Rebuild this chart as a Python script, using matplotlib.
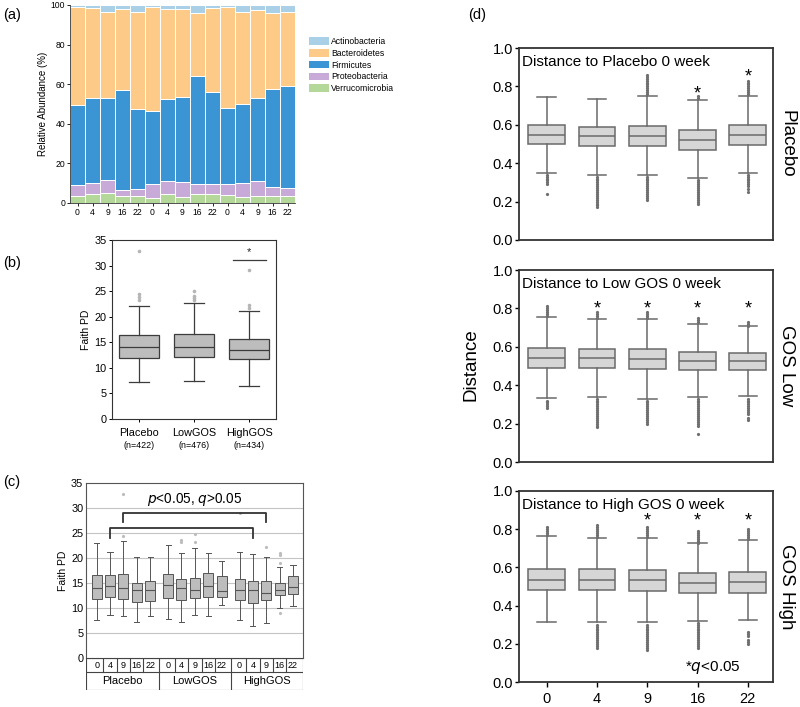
import matplotlib
matplotlib.use('Agg')
import matplotlib.pyplot as plt
from matplotlib.patches import Patch
import numpy as np

plt.rcParams['font.family'] = ['Liberation Sans', 'DejaVu Sans']

# ---------------- Panel (a) data: relative abundance (%) ----------------
weeks = ['0', '4', '9', '16', '22']
phyla = ['Actinobacteria', 'Bacteroidetes', 'Firmicutes', 'Proteobacteria', 'Verrucomicrobia']
verrucomicrobia = [3.5, 4.7, 5.0, 3.4, 3.5, 2.7, 4.7, 3.0, 4.7, 4.7, 4.2, 3.0, 3.5, 3.5, 3.5]
proteobacteria = [5.8, 5.3, 6.8, 3.3, 3.4, 6.7, 6.3, 7.5, 4.7, 4.7, 5.2, 7.0, 7.5, 4.6, 4.3]
firmicutes = [40.1, 42.8, 41.0, 50.6, 40.8, 37.3, 41.4, 43.1, 54.6, 46.8, 38.6, 40.0, 41.8, 49.7, 51.2]
bacteroidetes = [49.8, 45.5, 43.8, 40.5, 48.9, 52.1, 45.4, 44.2, 32.1, 42.1, 51.2, 46.6, 44.7, 38.3, 37.5]
actinobacteria = [0.8, 1.7, 3.4, 2.2, 3.4, 1.2, 2.2, 2.2, 3.9, 1.7, 0.8, 3.4, 2.5, 3.9, 3.5]
phylum_colors = {'Actinobacteria': '#a9d0e6', 'Bacteroidetes': '#fdca87',
                 'Firmicutes': '#3b94d4', 'Proteobacteria': '#c8aad8',
                 'Verrucomicrobia': '#b4d899'}

# ---------------- Panel (b) data: Faith PD by group ----------------
groups_b = ['Placebo', 'LowGOS', 'HighGOS']
n_b = ['(n=422)', '(n=476)', '(n=434)']
b_q1 = [12.0, 12.1, 11.7]
b_med = [14.0, 14.1, 13.5]
b_q3 = [16.5, 16.6, 15.6]
b_lo = [7.3, 7.4, 6.4]
b_hi = [22.0, 22.7, 21.1]
b_fliers = [[23.3, 23.8, 24.5, 32.8], [23.3, 23.7, 24.1, 25.0], [21.8, 22.2, 29.2]]

# ---------------- Panel (c) data: Faith PD by group x week ----------------
c_q1 = [11.9, 12.3, 11.9, 11.3, 11.5, 12.1, 11.7, 12.1, 12.3, 12.3, 11.7, 11.1, 11.7, 12.7, 12.9]
c_med = [14.1, 14.4, 14.0, 13.7, 13.7, 14.7, 14.0, 13.7, 14.4, 13.5, 13.6, 13.6, 13.1, 13.7, 14.3]
c_q3 = [16.7, 16.7, 16.8, 15.0, 15.5, 16.8, 15.9, 16.1, 17.1, 16.4, 15.9, 15.5, 15.4, 15.1, 16.4]
c_lo = [7.6, 8.6, 8.4, 7.2, 8.4, 7.8, 7.3, 8.6, 8.4, 10.7, 7.7, 6.4, 7.0, 10.1, 10.5]
c_hi = [23.1, 21.3, 23.4, 20.3, 20.2, 22.6, 21.0, 22.1, 21.0, 19.4, 21.2, 20.8, 20.3, 18.2, 18.6]
c_fliers = [[], [], [24.5, 32.8], [], [], [], [23.3, 23.6], [23.3, 24.8], [], [],
            [29.0], [], [22.2], [9.0, 19.1, 20.6, 21.1], []]

# ---------------- Panel (d) data: distance to week-0 ----------------
d_rows = ['Placebo', 'GOS Low', 'GOS High']
d_titles = ['Distance to Placebo 0 week', 'Distance to Low GOS 0 week', 'Distance to High GOS 0 week']
d_q1 = [[0.499, 0.487, 0.492, 0.471, 0.497],
        [0.490, 0.490, 0.483, 0.478, 0.477],
        [0.484, 0.480, 0.476, 0.466, 0.466]]
d_med = [[0.548, 0.543, 0.543, 0.522, 0.548],
         [0.544, 0.541, 0.536, 0.525, 0.525],
         [0.536, 0.536, 0.532, 0.518, 0.522]]
d_q3 = [[0.597, 0.588, 0.593, 0.574, 0.597],
        [0.595, 0.591, 0.588, 0.574, 0.570],
        [0.593, 0.590, 0.588, 0.571, 0.576]]
d_lo = [[0.351, 0.337, 0.337, 0.323, 0.351],
        [0.334, 0.339, 0.327, 0.336, 0.343],
        [0.314, 0.314, 0.312, 0.319, 0.326]]
d_hi = [[0.743, 0.734, 0.748, 0.727, 0.748],
        [0.753, 0.744, 0.744, 0.718, 0.708],
        [0.763, 0.756, 0.754, 0.728, 0.742]]
d_fliers = [
    [[0.34, 0.33, 0.32, 0.31, 0.30, 0.29, 0.24],
     [0.33, 0.32, 0.31, 0.30, 0.29, 0.28, 0.27, 0.26, 0.25, 0.24, 0.23, 0.22, 0.21, 0.20, 0.19, 0.18, 0.17],
     [0.76, 0.77, 0.78, 0.79, 0.80, 0.81, 0.82, 0.83, 0.84, 0.85, 0.86,
      0.33, 0.32, 0.31, 0.30, 0.29, 0.28, 0.27, 0.26, 0.25, 0.24, 0.23, 0.22, 0.21],
     [0.74, 0.75, 0.31, 0.30, 0.29, 0.28, 0.27, 0.26, 0.25, 0.24, 0.23, 0.22, 0.21, 0.20, 0.19],
     [0.76, 0.77, 0.78, 0.79, 0.80, 0.81, 0.82, 0.83,
      0.34, 0.33, 0.32, 0.31, 0.30, 0.29, 0.28, 0.265, 0.25]],
    [[0.76, 0.77, 0.78, 0.79, 0.80, 0.81, 0.32, 0.31, 0.30, 0.29, 0.28],
     [0.75, 0.76, 0.77, 0.78, 0.33, 0.32, 0.31, 0.30, 0.29, 0.28, 0.27, 0.26, 0.25, 0.24, 0.23, 0.22, 0.21, 0.20, 0.19, 0.18],
     [0.75, 0.76, 0.77, 0.78, 0.32, 0.31, 0.30, 0.29, 0.28, 0.27, 0.26, 0.25, 0.24, 0.23, 0.22, 0.21, 0.20],
     [0.73, 0.74, 0.75, 0.33, 0.32, 0.31, 0.30, 0.29, 0.28, 0.27, 0.26, 0.25, 0.24, 0.23, 0.22, 0.21, 0.20, 0.19, 0.145],
     [0.71, 0.72, 0.73, 0.33, 0.32, 0.31, 0.30, 0.29, 0.28, 0.27, 0.26, 0.25, 0.23, 0.22]],
    [[0.77, 0.78, 0.79, 0.80, 0.81],
     [0.76, 0.77, 0.78, 0.79, 0.80, 0.81, 0.82,
      0.30, 0.29, 0.28, 0.27, 0.26, 0.25, 0.24, 0.23, 0.22, 0.21, 0.20, 0.19, 0.18],
     [0.76, 0.77, 0.78, 0.79, 0.80, 0.81,
      0.30, 0.29, 0.28, 0.27, 0.26, 0.25, 0.24, 0.23, 0.22, 0.21, 0.20, 0.19, 0.18, 0.17],
     [0.73, 0.74, 0.75, 0.76, 0.77, 0.78, 0.79,
      0.31, 0.30, 0.29, 0.28, 0.27, 0.26, 0.25, 0.24, 0.23, 0.22, 0.21, 0.20, 0.19, 0.18],
     [0.75, 0.76, 0.77, 0.78, 0.79, 0.80, 0.26, 0.25, 0.24, 0.22, 0.21, 0.20]]]
# significance (*q<0.05) per week, with the height at which the star is shown
d_sig = [[False, False, False, True, True],
         [False, True, True, True, True],
         [False, False, True, True, True]]
d_star_y = [[0, 0, 0, 0.79, 0.88],
            [0, 0.83, 0.83, 0.83, 0.83],
            [0, 0, 0.875, 0.875, 0.875]]


def stats(q1, med, q3, lo, hi, fl):
    return [dict(q1=a, med=b, q3=c, whislo=d, whishi=e, fliers=f)
            for a, b, c, d, e, f in zip(q1, med, q3, lo, hi, fl)]


W, H = 800, 707
fig = plt.figure(figsize=(8, 7.07), dpi=100)


def fx(px):
    return px / W


def fy(py):
    return 1 - py / H


# ---------------- (a) ----------------
ax_a = fig.add_axes([fx(70), fy(203), fx(295) - fx(70), fy(5) - fy(203)])
xa = np.arange(15)
bottom = np.zeros(15)
series = {'Verrucomicrobia': verrucomicrobia, 'Proteobacteria': proteobacteria,
          'Firmicutes': firmicutes, 'Bacteroidetes': bacteroidetes,
          'Actinobacteria': actinobacteria}
for name in ['Verrucomicrobia', 'Proteobacteria', 'Firmicutes', 'Bacteroidetes', 'Actinobacteria']:
    vals = np.array(series[name])
    ax_a.bar(xa, vals, bottom=bottom, width=1.0, color=phylum_colors[name],
             edgecolor='white', linewidth=0.7)
    bottom += vals
ax_a.set_xlim(-0.5, 14.5)
ax_a.set_ylim(0, 100)
ax_a.set_yticks([0, 20, 40, 60, 80, 100])
ax_a.set_xticks(xa)
ax_a.set_xticklabels(weeks * 3)
ax_a.tick_params(labelsize=6.2, length=2, width=0.6, pad=1.5)
ax_a.set_ylabel('Relative Abundance (%)', fontsize=7, labelpad=2)
for s in ['top', 'right']:
    ax_a.spines[s].set_visible(False)
for s in ['left', 'bottom']:
    ax_a.spines[s].set_linewidth(0.6)
    ax_a.spines[s].set_color('#333333')
fig.legend([Patch(facecolor=phylum_colors[p]) for p in phyla], phyla,
           loc='upper left', bbox_to_anchor=(fx(309), fy(37)), frameon=False,
           fontsize=6.2, handlelength=2.3, handleheight=0.95, labelspacing=0.32,
           handletextpad=0.3, borderaxespad=0, borderpad=0)

# ---------------- (b) ----------------
box_col = '#bdbdbd'
edge_col = '#3c3c3c'
ax_b = fig.add_axes([fx(112), fy(419), fx(276) - fx(112), fy(240) - fy(419)])
ax_b.bxp(stats(b_q1, b_med, b_q3, b_lo, b_hi, b_fliers), positions=[1, 2, 3], widths=0.73,
         patch_artist=True, showfliers=True,
         boxprops=dict(facecolor=box_col, edgecolor=edge_col, linewidth=0.9),
         medianprops=dict(color=edge_col, linewidth=0.9),
         whiskerprops=dict(color=edge_col, linewidth=0.9),
         capprops=dict(color=edge_col, linewidth=0.9), capwidths=0.36,
         flierprops=dict(marker='o', markersize=2.6, markerfacecolor='#b5b5b5',
                         markeredgecolor='none'))
ax_b.set_xlim(0.51, 3.49)
ax_b.set_ylim(0, 35)
ax_b.set_yticks(range(0, 36, 5))
ax_b.set_xticks([1, 2, 3])
ax_b.set_xticklabels([])
ax_b.tick_params(labelsize=7.8, length=2.5, width=0.7, pad=1.5)
ax_b.set_ylabel('Faith PD', fontsize=7.5, labelpad=2)
for s in ax_b.spines.values():
    s.set_linewidth(0.8)
    s.set_color('#333333')
for i, (g, n) in enumerate(zip(groups_b, n_b)):
    ax_b.text(i + 1, -2.7, g, ha='center', va='center', fontsize=7.8)
    ax_b.text(i + 1, -5.1, n, ha='center', va='center', fontsize=6.4)
ax_b.plot([2.7, 3.3], [31.0, 31.0], color=edge_col, lw=0.9)
ax_b.text(3.0, 31.6, '*', ha='center', va='bottom', fontsize=8, color='#222222')

# ---------------- (c) ----------------
pos_c = [g * 5.35 + i for g in range(3) for i in range(5)]
ax_c = fig.add_axes([fx(86), fy(658), fx(303) - fx(86), fy(483) - fy(658)])
for yv in range(5, 35, 5):
    ax_c.axhline(yv, color='#c4c4c4', lw=0.8, zorder=0)
ax_c.bxp(stats(c_q1, c_med, c_q3, c_lo, c_hi, c_fliers), positions=pos_c, widths=0.75,
         patch_artist=True, showfliers=True,
         boxprops=dict(facecolor=box_col, edgecolor='#555555', linewidth=0.7),
         medianprops=dict(color='#555555', linewidth=0.8),
         whiskerprops=dict(color='#555555', linewidth=0.7),
         capprops=dict(color='#555555', linewidth=0.7), capwidths=0.38,
         flierprops=dict(marker='o', markersize=2.3, markerfacecolor='#bdbdbd',
                         markeredgecolor='none'))
ax_c.set_xlim(-0.8, 15.45)
ax_c.set_ylim(0, 35)
ax_c.set_yticks(range(0, 36, 5))
ax_c.set_xticks([])
ax_c.tick_params(labelsize=7.8, length=0, pad=2)
ax_c.set_ylabel('Faith PD', fontsize=7.5, labelpad=2)
for s in ax_c.spines.values():
    s.set_linewidth(0.8)
    s.set_color('#555555')
br_col = '#333333'
ax_c.plot([pos_c[2], pos_c[2], pos_c[12], pos_c[12]], [27.2, 29.1, 29.1, 27.2], color=br_col, lw=1.3)
ax_c.plot([pos_c[1], pos_c[1], pos_c[11], pos_c[11]], [24.0, 26.1, 26.1, 24.0], color=br_col, lw=1.3)
ax_c.text((pos_c[2] + pos_c[12]) / 2, 31.6, r'$\it{p}$<0.05, $\it{q}$>0.05',
          ha='center', va='center', fontsize=9.8)

# table under (c)
ax_t = fig.add_axes([fx(86), fy(690), fx(303) - fx(86), fy(658) - fy(690)])
ax_t.set_xlim(-0.8, 15.45)
ax_t.set_ylim(0, 1)
ax_t.axis('off')
lc = '#444444'
mid = 0.5625
for yl in (0.0, mid, 1.0):
    ax_t.plot([-0.8, 15.45], [yl, yl], color=lc, lw=0.8)
gb = [-0.8, (pos_c[4] + pos_c[5]) / 2, (pos_c[9] + pos_c[10]) / 2, 15.45]
for xb in gb:
    ax_t.plot([xb, xb], [0, 1], color=lc, lw=0.8)
for k in range(14):
    if k in (4, 9):
        continue
    xb = (pos_c[k] + pos_c[k + 1]) / 2
    ax_t.plot([xb, xb], [mid, 1], color=lc, lw=0.8)
for k, p in enumerate(pos_c):
    ax_t.text(p, (1 + mid) / 2, weeks[k % 5], ha='center', va='center', fontsize=6.5)
for g in range(3):
    ax_t.text((gb[g] + gb[g + 1]) / 2, mid / 2, groups_b[g], ha='center', va='center', fontsize=8)

# ---------------- (d) ----------------
d_tops = [48, 270, 491]
d_bots = [240, 462, 682]
d_box = '#d6d6d6'
d_edge = '#6a6a6a'
xd = np.arange(5)
for r in range(3):
    ax = fig.add_axes([fx(519), fy(d_bots[r]), fx(773) - fx(519), fy(d_tops[r]) - fy(d_bots[r])])
    ax.bxp(stats(d_q1[r], d_med[r], d_q3[r], d_lo[r], d_hi[r], d_fliers[r]), positions=xd,
           widths=0.73, patch_artist=True, showfliers=True,
           boxprops=dict(facecolor=d_box, edgecolor=d_edge, linewidth=1.1),
           medianprops=dict(color=d_edge, linewidth=1.1),
           whiskerprops=dict(color=d_edge, linewidth=1.1),
           capprops=dict(color=d_edge, linewidth=1.1), capwidths=0.37,
           flierprops=dict(marker='o', markersize=2.3, markerfacecolor='#6f6f6f',
                           markeredgecolor='none'))
    ax.set_xlim(-0.55, 4.5)
    ax.set_ylim(0, 1.0)
    ax.set_yticks([0.0, 0.2, 0.4, 0.6, 0.8, 1.0])
    ax.set_yticklabels(['0.0', '0.2', '0.4', '0.6', '0.8', '1.0'])
    ax.tick_params(axis='y', labelsize=10.5, length=3, width=1.0, pad=1.5)
    for s in ax.spines.values():
        s.set_linewidth(1.3)
        s.set_color('#333333')
    ax.text(-0.5, 0.925, d_titles[r], ha='left', va='center', fontsize=11)
    ax.text(1.02, 0.5, d_rows[r], transform=ax.transAxes, rotation=270,
            ha='left', va='center', fontsize=13.5)
    for k in range(5):
        if d_sig[r][k]:
            ax.text(k, d_star_y[r][k] - 0.055, '*', ha='center', va='baseline', fontsize=13)
    if r < 2:
        ax.set_xticks([])
    else:
        ax.set_xticks(xd)
        ax.set_xticklabels(weeks)
        ax.tick_params(axis='x', labelsize=10.5, length=3.5, width=1.0, pad=4)
        ax.text(3.3, 0.075, r'*$\it{q}$<0.05', ha='center', va='center', fontsize=11)

fig.text(fx(471), fy(365), 'Distance', rotation=90, ha='center', va='center', fontsize=13.5)

# panel labels
fig.text(fx(12), fy(15), '(a)', ha='center', va='center', fontsize=10.5)
fig.text(fx(12), fy(263), '(b)', ha='center', va='center', fontsize=10.5)
fig.text(fx(12), fy(482), '(c)', ha='center', va='center', fontsize=10.5)
fig.text(fx(477), fy(15), '(d)', ha='center', va='center', fontsize=10.5)

fig.savefig('out.png', dpi=100)
